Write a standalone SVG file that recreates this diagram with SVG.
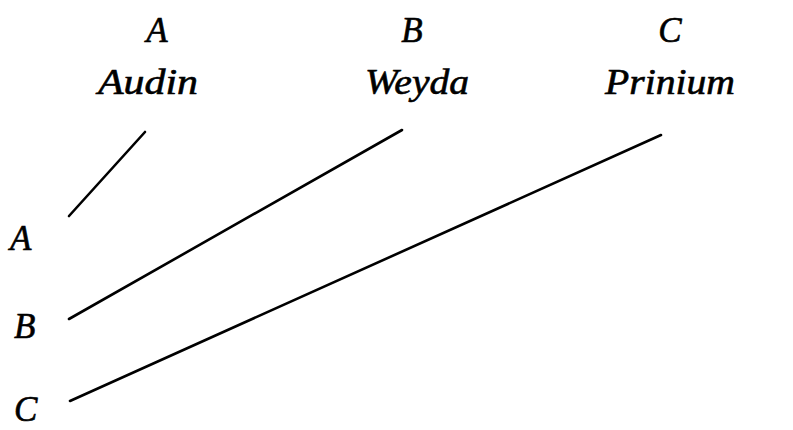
<svg xmlns="http://www.w3.org/2000/svg" width="793" height="430" viewBox="0 0 793 430">
<style>
text{font-family:"Liberation Serif","DejaVu Serif",serif;font-style:italic;font-size:35px;fill:#000;stroke:#000;stroke-width:0.6}
.t{text-anchor:middle}
.c{fill:none;stroke:#000;stroke-width:2.6;stroke-linecap:round}
</style>
<rect width="793" height="430" fill="#fff"/>
<g id="top-A"><text class="t" x="157" y="42">A</text><text class="t" x="148" y="94" textLength="100" lengthAdjust="spacingAndGlyphs">Audin</text></g>
<g id="top-B"><text class="t" x="412" y="42">B</text><text class="t" x="417" y="94" textLength="104" lengthAdjust="spacingAndGlyphs">Weyda</text></g>
<g id="top-C"><text class="t" x="670" y="42">C</text><text class="t" x="670" y="94" textLength="130" lengthAdjust="spacingAndGlyphs">Prinium</text></g>
<g id="left-A"><text x="10" y="250">A</text></g>
<g id="left-B"><text x="14" y="338">B</text></g>
<g id="left-C"><text x="14" y="421">C</text></g>
<g id="connectors">
<path class="c" d="M69,216 L145,132"/>
<path class="c" d="M69,319 L402,130"/>
<path class="c" d="M70,401 L661,135"/>
</g>
</svg>
